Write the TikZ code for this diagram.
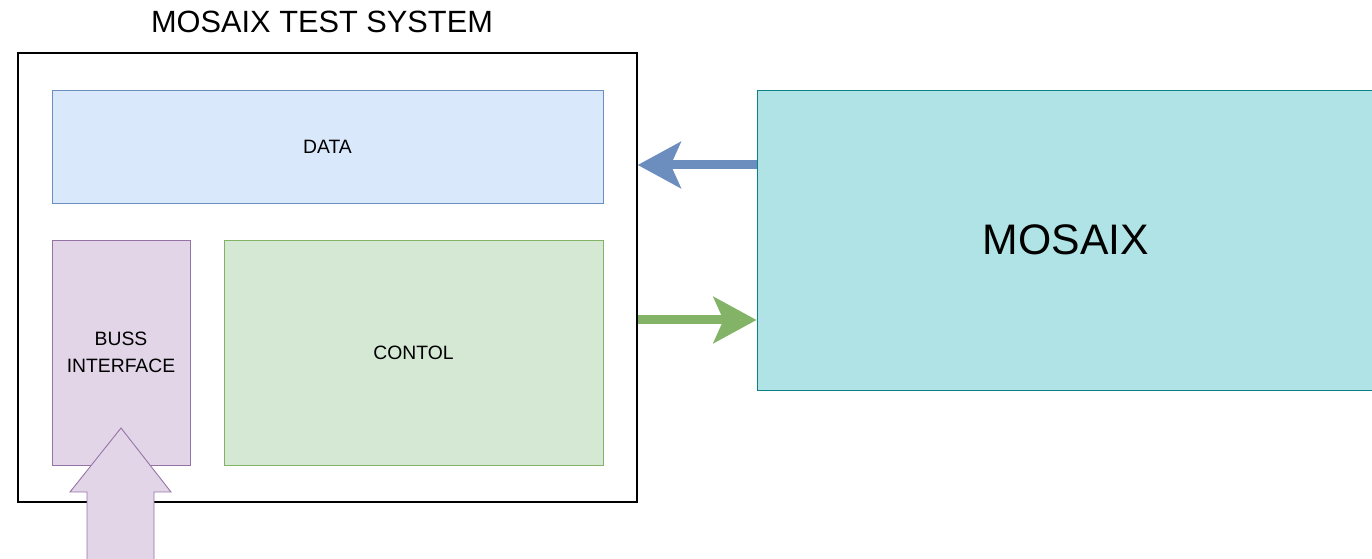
\documentclass[tikz,border=0pt]{standalone}
\usepackage{fontspec}
\setmainfont{Liberation Sans}
\usetikzlibrary{arrows.meta}

\definecolor{dataFill}{HTML}{DAE8FC}
\definecolor{dataLine}{HTML}{6C8EBF}
\definecolor{bussFill}{HTML}{E1D5E7}
\definecolor{bussLine}{HTML}{9673A6}
\definecolor{ctrlFill}{HTML}{D5E8D4}
\definecolor{ctrlLine}{HTML}{82B366}
\definecolor{mosFill}{HTML}{B0E3E6}
\definecolor{mosLine}{HTML}{0E8088}

\tikzset{
	block/.style={draw, line width=0.5pt, minimum width=#1, inner sep=0pt,
		font=\fontsize{11pt}{15.3pt}\selectfont, align=center},
	bigarrow/.style={line width=0.18cm,
		-{Stealth[length=0.86cm, width=0.92cm, inset=0.2cm]}},
}

\begin{document}
\begin{tikzpicture}
		\clip (0, 0) rectangle (27.44, 11.18);
		% 测试系统外框
		\node[draw, line width=0.8pt, minimum width=12.38cm, minimum height=8.98cm]
			(sys) at (6.55, 5.63) {};
		\node[anchor=base, font=\fontsize{17.5pt}{21pt}\selectfont]
			(title) at (6.44, 10.52) {MOSAIX TEST SYSTEM};
		% 内部三个模块
		\node[block=11.02cm, minimum height=2.26cm, fill=dataFill, draw=dataLine]
			(data) at (6.55, 8.25) {DATA};
		\node[block=2.76cm, minimum height=4.5cm, fill=bussFill, draw=bussLine]
			(buss) at (2.42, 4.13) {BUSS\\INTERFACE};
		\node[block=7.58cm, minimum height=4.5cm, fill=ctrlFill, draw=ctrlLine]
			(contol) at (8.27, 4.13) {CONTOL};
		% 右边的 MOSAIX
		\node[block=12.36cm, minimum height=6cm, fill=mosFill, draw=mosLine,
			font=\fontsize{24.3pt}{29pt}\selectfont]
			(mosaix) at (21.32, 6.38) {MOSAIX};
		% 两个箭头
		\draw[bigarrow, dataLine]
			([yshift=1.5cm]mosaix.west) -- ([yshift=1.5cm]mosaix.west -| sys.east);
		\draw[bigarrow, ctrlLine]
			([yshift=-1.6cm]mosaix.west -| sys.east) -- ([yshift=-1.6cm]mosaix.west);
		% 下方的空心箭头
		\coordinate (tip) at (buss.center |- 0, 2.62);
		\filldraw[fill=bussFill, draw=bussLine, line width=0.5pt]
			(tip) -- (3.42, 1.34) -- (3.08, 1.34) -- (3.08, -0.2)
			-- (1.74, -0.2) -- (1.74, 1.34) -- (1.40, 1.34) -- cycle;
	\end{tikzpicture}
\end{document}
